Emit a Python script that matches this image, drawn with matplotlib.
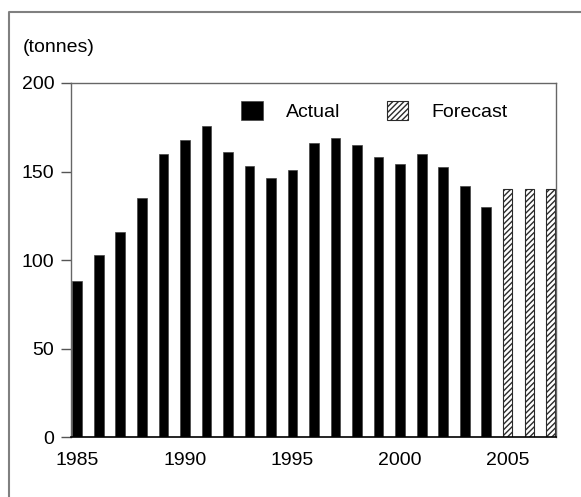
import matplotlib
matplotlib.use("Agg")
import matplotlib.pyplot as plt
from matplotlib.patches import Patch
from matplotlib.lines import Line2D

plt.rcParams['font.family'] = ['Liberation Sans', 'DejaVu Sans']
plt.rcParams['hatch.linewidth'] = 1.0

# data
actual_years = list(range(1985, 2005))
actual_tonnes = [88, 103, 116, 135, 160, 168, 175.5, 161, 153, 146.5, 151,
                 166, 169, 165, 158, 154.5, 160, 152.5, 142, 130]
forecast_years = [2005, 2006, 2007]
forecast_tonnes = [140, 140, 140]
xtick_years = [1985, 1990, 1995, 2000, 2005]
ytick_values = [0, 50, 100, 150, 200]

fig = plt.figure(figsize=(5.81, 4.97), dpi=100)
ax = fig.add_axes([0.1222, 0.1207, 0.8348, 0.7123])

ax.bar(actual_years, actual_tonnes, width=0.45, color='black',
       edgecolor='#444444', linewidth=0.5)
ax.bar(forecast_years, forecast_tonnes, width=0.42, color='white',
       edgecolor='#2a2a2a', hatch='//////', linewidth=0.8)

ax.set_xlim(1984.71, 2007.24)
ax.set_ylim(0, 200)
ax.set_xticks(xtick_years)
ax.set_yticks(ytick_values)
ax.tick_params(axis='x', length=0, pad=11, labelsize=14)
ax.tick_params(axis='y', length=7, width=1, color='#555555', pad=5,
               labelsize=14)

for side in ['top', 'right', 'left']:
    ax.spines[side].set_color('#666666')
    ax.spines[side].set_linewidth(1)
ax.spines['bottom'].set_color('black')
ax.spines['bottom'].set_linewidth(1.2)

fig.text(23 / 581, 1 - 47 / 497, '(tonnes)', fontsize=14,
         ha='left', va='center')

handles = [Patch(facecolor='black', edgecolor='#444444', linewidth=0.5),
           Patch(facecolor='white', edgecolor='#2a2a2a', hatch='//////',
                 linewidth=0.8)]
fig.legend(handles, ['Actual', 'Forecast'], ncol=2, frameon=False,
           loc='center', bbox_to_anchor=(374.5 / 581, 1 - 111 / 497),
           fontsize=14, handlelength=1.1, handleheight=1.1,
           handletextpad=1.2, columnspacing=2.4)

# outer frame: only top and left edges visible in the crop
fig.add_artist(Line2D([9 / 581, 9 / 581, 1.01], [-0.01, 1 - 12 / 497, 1 - 12 / 497],
                      transform=fig.transFigure, color='#808080', linewidth=1.5))

fig.savefig('out.png', dpi=100)
